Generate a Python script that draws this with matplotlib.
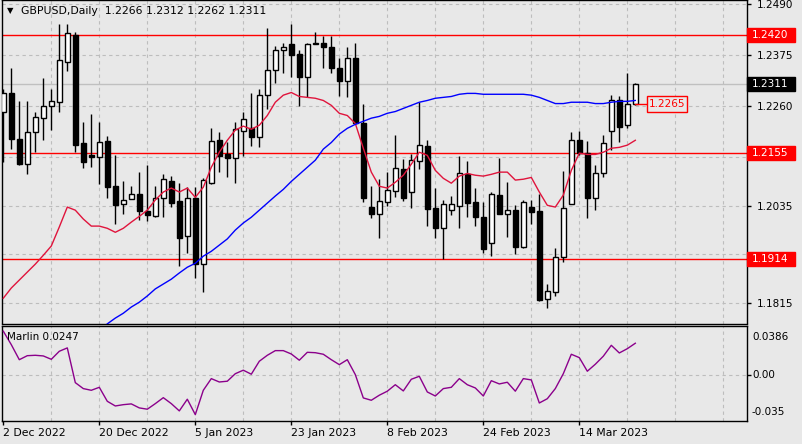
import numpy as np
import matplotlib
matplotlib.use("Agg")
import matplotlib.pyplot as plt
from matplotlib.transforms import blended_transform_factory
from matplotlib.patches import Rectangle

# ---------------- data ----------------
symbol_title = "GBPUSD,Daily  1.2266 1.2312 1.2262 1.2311"
opens = [1.2246,1.2289,1.2187,1.2129,1.2201,1.2233,1.2260,1.2269,1.2359,1.2422,
         1.2176,1.2149,1.2145,1.2181,1.2079,1.2039,1.2050,1.2061,1.2023,1.2011,
         1.2052,1.2090,1.2045,1.1966,1.2052,1.1903,1.2086,1.2183,1.2151,1.2142,
         1.2203,1.2210,1.2190,1.2285,1.2341,1.2386,1.2400,1.2377,1.2327,1.2400,
         1.2404,1.2393,1.2346,1.2318,1.2370,1.2221,1.2032,1.2016,1.2043,1.2068,
         1.2118,1.2066,1.2136,1.2169,1.2029,1.1984,1.2025,1.2034,1.2106,1.2043,
         1.2009,1.1950,1.2059,1.2016,1.2025,1.1941,1.2032,1.2023,1.1824,1.1840,
         1.1919,1.2039,1.2183,1.2154,1.2052,1.2108,1.2203,1.2273,1.2217,1.2266]
highs = [1.2300,1.2346,1.2271,1.2271,1.2246,1.2323,1.2298,1.2445,1.2447,1.2427,
         1.2224,1.2242,1.2224,1.2192,1.2149,1.2090,1.2079,1.2111,1.2127,1.2079,
         1.2106,1.2102,1.2086,1.2077,1.2077,1.2097,1.2210,1.2201,1.2178,1.2224,
         1.2246,1.2289,1.2300,1.2436,1.2397,1.2404,1.2447,1.2388,1.2404,1.2427,
         1.2418,1.2418,1.2370,1.2393,1.2402,1.2266,1.2079,1.2095,1.2111,1.2194,
         1.2140,1.2151,1.2269,1.2183,1.2075,1.2048,1.2057,1.2147,1.2136,1.2075,
         1.2043,1.2066,1.2142,1.2088,1.2036,1.2048,1.2048,1.2061,1.1858,1.1939,
         1.2113,1.2201,1.2203,1.2181,1.2127,1.2194,1.2285,1.2282,1.2334,1.2312]
lows = [1.2133,1.2163,1.2127,1.2106,1.2156,1.2183,1.2206,1.2246,1.2339,1.2156,
        1.2120,1.2122,1.2084,1.2052,1.1993,1.2016,1.2050,1.2002,1.2000,1.2009,
        1.2009,1.2032,1.1899,1.1928,1.1871,1.1840,1.2084,1.2111,1.2099,1.2086,
        1.2147,1.2169,1.2167,1.2253,1.2312,1.2334,1.2325,1.2260,1.2280,1.2400,
        1.2346,1.2334,1.2282,1.2280,1.2219,1.2043,1.2007,1.1962,1.2034,1.2054,
        1.2045,1.2029,1.2118,1.1989,1.1962,1.1914,1.2014,1.1984,1.2009,1.1989,
        1.1928,1.1921,1.2016,1.1964,1.1926,1.1939,1.1993,1.1820,1.1804,1.1831,
        1.1908,1.2039,1.2149,1.2007,1.2025,1.2099,1.2160,1.2178,1.2210,1.2262]
closes = [1.2289,1.2187,1.2129,1.2201,1.2235,1.2260,1.2271,1.2364,1.2425,1.2172,
          1.2133,1.2145,1.2178,1.2077,1.2036,1.2048,1.2061,1.2023,1.2014,1.2052,
          1.2095,1.2041,1.1962,1.2052,1.1903,1.2093,1.2181,1.2147,1.2142,1.2208,
          1.2230,1.2190,1.2285,1.2343,1.2388,1.2395,1.2375,1.2327,1.2400,1.2404,
          1.2393,1.2346,1.2318,1.2370,1.2221,1.2052,1.2016,1.2045,1.2070,1.2120,
          1.2052,1.2138,1.2172,1.2027,1.1984,1.2039,1.2039,1.2108,1.2041,1.2009,
          1.1937,1.2061,1.2016,1.2025,1.1941,1.2043,1.2020,1.1822,1.1842,1.1919,
          1.2029,1.2183,1.2154,1.2052,1.2108,1.2176,1.2273,1.2212,1.2266,1.2311]
ma_red = [1.1826,1.1849,1.1867,1.1885,1.1903,1.1923,1.1944,1.1987,1.2032,1.2025,
          1.2005,1.1989,1.1989,1.1984,1.1975,1.1984,1.1998,1.2011,1.2025,1.2048,
          1.2066,1.2075,1.2066,1.2075,1.2054,1.2077,1.2122,1.2156,1.2183,1.2206,
          1.2215,1.2208,1.2217,1.2239,1.2269,1.2285,1.2291,1.2282,1.2280,1.2278,
          1.2273,1.2262,1.2244,1.2239,1.2221,1.2165,1.2111,1.2079,1.2075,1.2088,
          1.2104,1.2129,1.2156,1.2149,1.2115,1.2097,1.2086,1.2102,1.2108,1.2104,
          1.2102,1.2106,1.2111,1.2111,1.2093,1.2095,1.2099,1.2066,1.2036,1.2032,
          1.2059,1.2115,1.2154,1.2151,1.2151,1.2156,1.2165,1.2167,1.2172,1.2183]
ma_blue = [None]*13 + [
          1.1768,1.1781,1.1792,1.1806,1.1817,1.1831,1.1847,1.1858,1.1869,1.1883,
          1.1896,1.1905,1.1921,1.1932,1.1946,1.1960,1.1980,1.1996,1.2009,1.2025,
          1.2041,1.2057,1.2072,1.2090,1.2106,1.2122,1.2138,1.2163,1.2178,1.2197,
          1.2210,1.2219,1.2226,1.2233,1.2237,1.2244,1.2248,1.2255,1.2262,1.2269,
          1.2273,1.2278,1.2280,1.2282,1.2287,1.2289,1.2289,1.2287,1.2287,1.2287,
          1.2287,1.2287,1.2287,1.2285,1.2280,1.2273,1.2266,1.2266,1.2269,1.2269,
          1.2269,1.2266,1.2266,1.2269,1.2271,1.2271,1.2273]
marlin = [0.0340,0.0236,0.0120,0.0151,0.0154,0.0149,0.0123,0.0185,0.0211,-0.0057,
          -0.0103,-0.0116,-0.0093,-0.0201,-0.0237,-0.0227,-0.0221,-0.0252,-0.0262,-0.0219,
          -0.0173,-0.0219,-0.0275,-0.0185,-0.0304,-0.0116,-0.0026,-0.0052,-0.0046,0.0012,
          0.0039,0.0008,0.0108,0.0154,0.0190,0.0190,0.0164,0.0116,0.0177,0.0174,
          0.0162,0.0120,0.0082,0.0120,0.0005,-0.0175,-0.0193,-0.0154,-0.0123,-0.0073,
          -0.0121,-0.0031,-0.0008,-0.0129,-0.0160,-0.0103,-0.0093,-0.0026,-0.0073,-0.0098,
          -0.0160,-0.0042,-0.0067,-0.0054,-0.0123,-0.0026,-0.0036,-0.0214,-0.0181,-0.0103,
          0.0012,0.0162,0.0136,0.0031,0.0085,0.0147,0.0231,0.0172,0.0205,0.0247]
date_idx = [0, 12, 24, 36, 48, 60, 72]
date_labels = ["2 Dec 2022", "20 Dec 2022", "5 Jan 2023", "23 Jan 2023",
               "8 Feb 2023", "24 Feb 2023", "14 Mar 2023"]
price_ticks = [1.2490, 1.2375, 1.2260, 1.2145, 1.2035, 1.1925, 1.1815]
hidden_ticks = [1.2145, 1.1925]   # covered by the level boxes in the reference
levels = [1.2420, 1.2155, 1.1914]
last_price = 1.2311
marker_price = 1.2265
marlin_ticks = ["0.0386", "0.00", "-0.035"]
marlin_last = 0.0247

# ---------------- figure ----------------
W, H = 803, 444
bg = "#e8e8e8"
grid_c = "#bdbdbd"
fig = plt.figure(figsize=(W/100, H/100), dpi=100)
fig.patch.set_facecolor(bg)
ax = fig.add_axes([2.5/W, 1-323.5/H, 744.5/W, 323/H])
sub = fig.add_axes([2.5/W, 1-421/H, 744.5/W, 95/H])

n = len(closes)
x = np.arange(n)
xlim = (-0.1, 92.96)
for a in (ax, sub):
    a.set_facecolor(bg)
    a.set_xlim(*xlim)
    for s in a.spines.values():
        s.set_color("black")
        s.set_linewidth(1)
    for gi in range(6, 93, 6):
        a.axvline(gi, color=grid_c, lw=0.8, ls=(0, (3, 3)), zorder=0)

ylo, yhi = 1.17688, 1.2499
ax.set_ylim(ylo, yhi)
for p in price_ticks:
    ax.axhline(p, color=grid_c, lw=0.8, ls=(0, (3, 3)), zorder=0)

# current price line
ax.axhline(last_price, color="#c0c0c0", lw=1, zorder=1)
# levels
for lv in levels:
    ax.axhline(lv, color="#ff0000", lw=1.0, zorder=2)

# candles
O = np.array(opens); Hh = np.array(highs); L = np.array(lows); C = np.array(closes)
ax.vlines(x, L, Hh, color="black", lw=1, zorder=3)
bull = C >= O
body_lo = np.minimum(O, C)
body_h = np.maximum(np.abs(C - O), 0.00004)
ax.bar(x, body_h, bottom=body_lo, width=0.62,
       color=np.where(bull, "white", "black"), edgecolor="black", lw=1, zorder=4)

# moving averages
ax.plot(x, ma_red, color="#e0143c", lw=1, zorder=5)
blue = np.array([np.nan if v is None else v for v in ma_blue], dtype=float)
ax.plot(x, blue, color="#0000ff", lw=1, zorder=5)

# marker price label 1.2265
ax.plot([n-1, 80.5], [marker_price, marker_price], color="#ff0000", lw=1, zorder=6)
ax.add_patch(Rectangle((80.5, marker_price - 0.0017), 4.9, 0.0034, fc=bg, ec="#ff0000",
                       lw=1, zorder=6))
ax.text(82.95, marker_price, f"{marker_price:.4f}", color="#ff0000", fontsize=7.5,
        ha="center", va="center", zorder=7)

# right axis
ax.set_xticks([])
ax.yaxis.tick_right()
ax.set_yticks(price_ticks)
ax.set_yticklabels(["" if p in hidden_ticks else f"{p:.4f}" for p in price_ticks],
                   fontsize=7.5)
ax.tick_params(axis="y", length=3, width=1, pad=4, colors="black")

# boxed labels on the right axis
trans = blended_transform_factory(fig.transFigure, ax.transData)
px_per_unit = 323 / (yhi - ylo)
hbox = 14 / px_per_unit
def right_box(val, fc, tc):
    ax.add_patch(Rectangle((747.5/W, val - hbox/2), 48/W, hbox, transform=trans,
                           fc=fc, ec=fc, lw=1, clip_on=False, zorder=10))
    ax.text(752/W, val, f"{val:.4f}", transform=trans, color=tc, fontsize=7.5,
            ha="left", va="center", clip_on=False, zorder=11)
for lv in levels:
    right_box(lv, "#ff0000", "white")
right_box(last_price, "black", "white")

# title
fig.text(7/W, 1-10.5/H, "\u25bc", fontsize=6, va="center", ha="left")
fig.text(21/W, 1-10.5/H, symbol_title, fontsize=7.8, va="center", ha="left")

# ---------------- marlin panel ----------------
sub.set_ylim(-0.0353, 0.0380)
sub.axhline(0, color=grid_c, lw=0.8, ls=(0, (3, 3)), zorder=0)
sub.plot(x, marlin, color="#8b008b", lw=1, zorder=3)
sub.set_yticks([0.0])
sub.yaxis.tick_right()
sub.set_yticklabels([""])
sub.tick_params(axis="y", length=3, width=1)
fig.text(752/W, 1-337/H, marlin_ticks[0], fontsize=7.5, va="center", ha="left")
fig.text(752/W, 1-375/H, marlin_ticks[1], fontsize=7.5, va="center", ha="left")
fig.text(752/W, 1-412/H, marlin_ticks[2], fontsize=7.5, va="center", ha="left")
sub.text(0.006, 0.88, f"Marlin {marlin_last:.4f}", transform=sub.transAxes,
         fontsize=7.5, va="center", ha="left")

sub.set_xticks(date_idx)
sub.set_xticklabels(date_labels, fontsize=7.8, ha="left")
sub.tick_params(axis="x", length=3, width=1, pad=2)

fig.savefig("out.png", dpi=100, facecolor=bg)
